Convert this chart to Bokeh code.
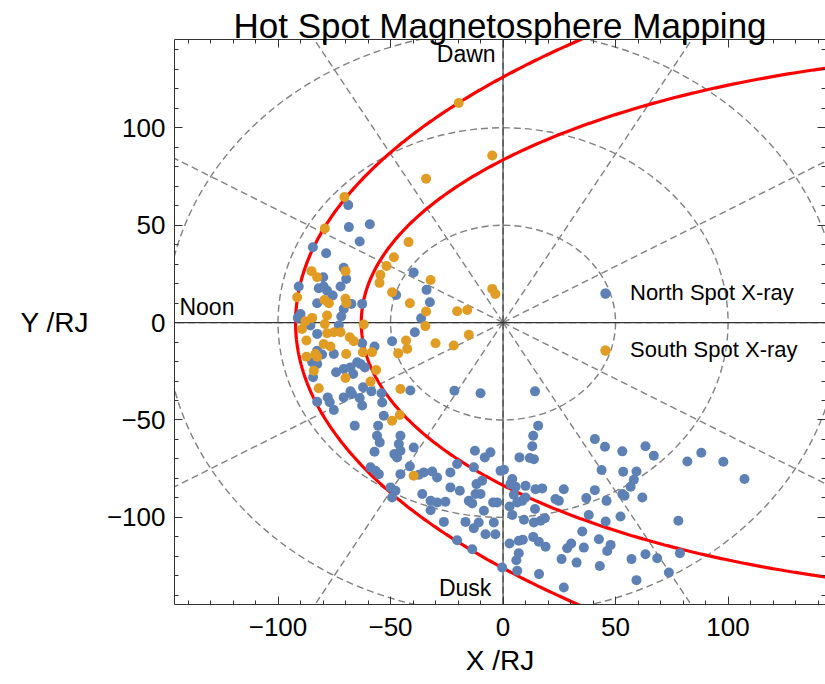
import numpy as np
from bokeh.plotting import figure
from bokeh.models import (Range1d, FixedTicker, LinearAxis, Legend, LegendItem)
from bokeh.core.properties import value
from bokeh.embed import file_html
from bokeh.resources import INLINE

# ---------------- data ----------------
TITLE = "Hot Spot Magnetosphere Mapping"
X_LABEL = "X /RJ"
Y_LABEL = "Y /RJ"
MAJOR_TICKS = [-100, -50, 0, 50, 100]
MAJOR_TICK_LABELS = ["\u2212100", "\u221250", "0", "50", "100"]
MINOR_TICKS = list(range(-140, 150, 10))

GRID_RADII = [50, 100, 150]
GRID_ANGLES_DEG = [0, 30, 60, 90, 120, 150, 180, 210, 240, 270, 300, 330]

# boundary curves, conic y^2 = A + B*x + C*x^2 (coefficients)
OUTER_BOUNDARY = [15882.0, 156.9, -0.1666]
INNER_BOUNDARY = [6972.0, 98.33, -0.1958]

NORTH_LABEL = "North Spot X-ray"
SOUTH_LABEL = "South Spot X-ray"

NORTH_X = [-68.8, -68.5, -59.2, -63.7, -84.5, -78.6, -70.8, -69.7, -79.9, -72.2,
           -90.8, -81.9, -79.7, -78.2, -75.7, -82.6, -67.4, -62.6, -70.8, -71.9,
           -91.2, -90.0, -39.7, -34.0, -32.5, -47.5, -36.4, -73.0, -85.6, -82.6,
           -57.1, -49.3, -39.2, -62.6, -82.6, -80.4, -75.2, -84.8, -82.6, -74.2,
           -67.8, -64.8, -63.4, -61.4, -70.8, -66.6, -84.4, -77.9, -82.6, -77.0,
           -75.2, -70.8, -67.8, -67.1, -63.7, -62.2, -62.6, -58.5, -54.0, -53.7,
           -65.9, -55.5, -53.0, -56.0, -54.8, -57.1, -45.6, -46.3, -45.6, -48.3,
           -47.1, -39.7, -41.4, -58.9, -56.7, -55.2, -45.6, -50.0, -47.8, -49.3,
           -35.2, -31.5, -29.3, -37.4, -23.4, -20.4, -13.0, -8.1, -5.6, -12.5,
           -23.4, -19.2, -11.8, -9.3, -35.9, -32.2, -29.3, -25.6, -15.2, -13.7,
           -12.2, -10.0, -8.5, -4.4, -32.2, -26.3, -16.7, -13.0, -10.8, -7.8,
           -4.1, -3.4, -20.4, -13.7, -1.1, -21.6, -10.0, -41.2,
           14.2, 15.6, 13.4, 13.0, 7.3, 11.9, 13.7, 0.4, 4.1, 3.3,
           5.6, 10.0, 14.4, 17.4, 27.0, 4.8, 10.0, 8.5, 6.3, -2.6,
           2.9, 4.1, 14.2, 9.3, 13.7, 16.7, 18.6, 2.9, 7.0, 8.8,
           13.4, 15.9, 18.9, 7.0, 5.9, 6.3, 16.0, -0.4, 23.3, 24.8,
           37.0, 40.8, 46.0, 35.2, 30.3, 28.5, 26.0, 32.7, 35.9, 38.1,
           42.6, 45.6, 46.3, 47.8, 43.0, 27.0, 40.8, 45.3, 43.8, 53.0,
           53.4, 59.3, 58.1, 56.7, 53.0, 54.0, 61.9, 63.3, 67.0, 52.2,
           57.1, 59.3, 63.3, 68.5, 73.7, 77.9, 78.6, 81.9, 88.1, 97.9,
           107.3]
NORTH_Y = [60.3, 49.0, 50.5, 41.6, 38.7, 35.6, 28.1, 22.4, 23.3, 18.5,
           18.5, 17.6, 18.5, 16.4, 13.9, 9.9, 9.6, 9.6, 7.0, 3.1,
           2.4, 4.4, 25.7, 16.8, 10.4, 14.2, 2.2, -1.5, -1.5, -5.8,
           -12.3, -9.6, -5.0, -10.6, -14.4, -16.4, -16.1, -20.4, -21.2, -25.5,
           -23.0, -20.4, -21.2, -23.0, -23.8, -26.4, -28.1, -38.4, -40.6, -40.9,
           -44.9, -38.4, -35.3, -36.7, -38.7, -33.2, -42.6, -35.3, -36.3, -41.0,
           -52.9, -52.9, -47.8, -58.1, -61.5, -66.3, -58.1, -62.3, -65.8, -67.5,
           -69.2, -64.1, -73.8, -74.3, -76.1, -77.8, -77.8, -84.6, -86.3, -89.8,
           -76.9, -76.4, -79.5, -78.1, -76.9, -72.6, -74.3, -69.2, -66.6, -65.8,
           -84.6, -86.3, -82.9, -81.2, -88.0, -91.5, -92.3, -92.0, -91.5, -92.8,
           -88.0, -88.0, -96.6, -92.3, -96.3, -102.3, -102.3, -105.5, -102.6, -108.6,
           -102.6, -108.6, -111.7, -116.3, -76.1, -35.0, -36.3, -34.9,
           -35.3, -52.9, -58.1, -63.5, -69.2, -69.5, -70.1, -75.5, -80.3, -82.9,
           -84.3, -83.8, -85.5, -85.1, -85.5, -88.4, -89.8, -91.5, -92.3, -92.3,
           -94.4, -98.7, -95.7, -101.2, -102.6, -101.7, -100.4, -113.4, -112.0, -111.5,
           -110.0, -112.5, -115.1, -118.4, -122.0, -127.4, -129.1, -125.7, -90.6, -91.5,
           -90.1, -86.0, -91.5, -107.2, -113.4, -115.8, -121.4, -123.2, -115.5, -98.8,
           -111.2, -102.1, -117.2, -114.1, -124.9, -136.0, -59.8, -63.7, -75.7, -66.1,
           -76.6, -76.4, -80.7, -84.3, -88.0, -88.9, -89.8, -63.5, -68.3, -99.5,
           -121.4, -132.2, -118.9, -121.0, -128.3, -101.7, -118.4, -71.3, -66.8, -71.4,
           -80.3]

SOUTH_X = [-19.7, -4.8, -34.2, -70.5, -79.2, -42.0, -48.5, -51.8, -54.5, -54.9,
           -32.2, -49.3, -41.4, -34.2, -20.4, -15.9, -4.8, -3.4, -85.1, -82.6,
           -70.0, -91.5, -79.4, -77.4, -70.0, -69.6, -78.2, -84.8, -87.8, -61.9,
           -34.5, -89.3, -87.4, -79.2, -78.2, -75.2, -72.2, -68.1, -66.3, -79.7,
           -76.7, -87.4, -83.4, -82.6, -69.7, -62.3, -58.2, -84.1, -70.0, -56.4,
           -58.9, -81.9, -43.1, -42.6, -46.6, -30.0, -21.9, -15.2, -45.6, -49.3,
           -45.9, -39.7]
SOUTH_Y = [112.7, 85.8, 73.8, 64.4, 48.3, 41.3, 33.5, 29.1, 24.5, 20.4,
           21.9, 15.6, 9.9, 5.7, 5.8, 6.5, 17.3, 14.7, 26.4, 23.3,
           26.4, 13.0, 11.6, 9.9, 12.2, 9.9, 3.6, 2.4, 0.7, -1.0,
           -1.8, -3.3, -9.2, -0.7, -5.5, -5.0, -5.0, -7.5, -9.6, -11.0,
           -12.3, -17.5, -16.1, -17.5, -16.1, -15.2, -15.2, -24.7, -28.4, -24.3,
           -30.3, -33.7, -9.2, -13.5, -15.8, -10.6, -11.8, -6.2, -34.1, -50.4,
           -47.4, -78.6]

REGION_LABELS = ["Dawn", "Dusk", "Noon"]

# ---------------- styles ----------------
FONT = "Liberation Sans"
BLUE = "#5E81B5"
ORANGE = "#E19C24"
GRID_COLOR = "#808080"
AXIS_COLOR = "#333333"

p = figure(width=825, height=684, x_range=Range1d(-146.0, 143.3),
           y_range=Range1d(-144.7, 145.3), output_backend="svg",
           toolbar_location=None,
           min_border_left=174, min_border_right=0, min_border_top=39,
           min_border_bottom=80)
p.grid.visible = False
p.outline_line_color = None
p.background_fill_color = "white"
p.border_fill_color = "white"

p.title.text = TITLE
p.title.align = "center"
p.title.text_font = FONT
p.title.text_font_size = "35px"
p.title.text_font_style = "normal"
p.title.text_color = "black"
p.title.standoff = -10

bottom_axis = p.below[0]
left_axis = p.left[0]

# polar grid
for r in GRID_RADII:
    p.ellipse(x=0, y=0, width=2 * r, height=2 * r, fill_color=None,
              line_color=GRID_COLOR, line_dash="7 4", line_width=1.4)
ang = np.deg2rad(GRID_ANGLES_DEG)
R = 400.0
p.segment(x0=np.zeros(len(ang)), y0=np.zeros(len(ang)), x1=R * np.cos(ang),
          y1=R * np.sin(ang), line_color=GRID_COLOR, line_dash="7 4", line_width=1.4)

# axes through origin
p.segment(x0=[-400, 0], y0=[0, -400], x1=[400, 0], y1=[0, 400],
          line_color=AXIS_COLOR, line_width=1.1)


def boundary(coeffs):
    A, B, C = coeffs
    ys = np.linspace(-170, 170, 1361)
    disc = B * B - 4 * C * (A - ys ** 2)
    ok = disc >= 0
    xs = (-B + np.sqrt(disc[ok])) / (2 * C)
    return xs, ys[ok]


for coeffs in (OUTER_BOUNDARY, INNER_BOUNDARY):
    bx, by = boundary(coeffs)
    p.line(bx, by, line_color="#FF0000", line_width=3.2)

north = p.scatter(NORTH_X, NORTH_Y, size=10, marker="circle", fill_color=BLUE,
                  line_color=None)
south = p.scatter(SOUTH_X, SOUTH_Y, size=10, marker="circle", fill_color=ORANGE,
                  line_color=None)

# region labels
p.text(x=[-3.3, -5.2], y=[138.0, -136.4], text=REGION_LABELS[:2],
       text_font=value(FONT), text_font_size=value("23px"), text_align="right",
       text_baseline="alphabetic", text_color="black")
p.text(x=[-143.8], y=[8.0], text=REGION_LABELS[2:], text_font=value(FONT),
       text_font_size=value("23px"), text_align="left",
       text_baseline="alphabetic", text_color="black")

legend = Legend(items=[LegendItem(label=NORTH_LABEL, renderers=[north]),
                       LegendItem(label=SOUTH_LABEL, renderers=[south])],
                location=(418, 241), glyph_width=26, glyph_height=26,
                label_height=26, spacing=31, label_standoff=12, padding=0,
                margin=0, border_line_color=None, background_fill_alpha=0,
                label_text_font=FONT, label_text_font_size="22px",
                label_text_color="black")
p.add_layout(legend)

# axes
ticker = FixedTicker(ticks=MAJOR_TICKS, minor_ticks=MINOR_TICKS)
overrides = {t: l for t, l in zip(MAJOR_TICKS, MAJOR_TICK_LABELS)}
top_axis = LinearAxis()
p.add_layout(top_axis, "above")
right_axis = LinearAxis()
p.add_layout(right_axis, "right")
for ax in (bottom_axis, left_axis, top_axis, right_axis):
    ax.ticker = ticker
    ax.major_label_overrides = overrides
    ax.major_tick_in = 8
    ax.major_tick_out = 0
    ax.minor_tick_in = 4
    ax.minor_tick_out = 0
    ax.axis_line_color = AXIS_COLOR
    ax.major_tick_line_color = AXIS_COLOR
    ax.minor_tick_line_color = AXIS_COLOR
    ax.major_label_text_font = FONT
    ax.major_label_text_font_size = "26px"
    ax.major_label_text_color = "black"
    ax.axis_label_text_font = FONT
    ax.axis_label_text_font_style = "normal"
    ax.axis_label_text_font_size = "28px"
    ax.axis_label_text_color = "black"
# mirror axes: ticks only, no tick labels drawn
for ax in (top_axis, right_axis):
    ax.major_label_text_font_size = "1px"
    ax.major_label_text_color = None
    ax.major_label_standoff = 0
right_axis.axis_line_color = None

bottom_axis.axis_label = X_LABEL
bottom_axis.major_label_standoff = 13
bottom_axis.axis_label_standoff = 6
left_axis.axis_label = Y_LABEL
left_axis.axis_label_orientation = "horizontal"
left_axis.major_label_standoff = 9
left_axis.axis_label_standoff = 15

open("out.html", "w").write(file_html(p, INLINE))
